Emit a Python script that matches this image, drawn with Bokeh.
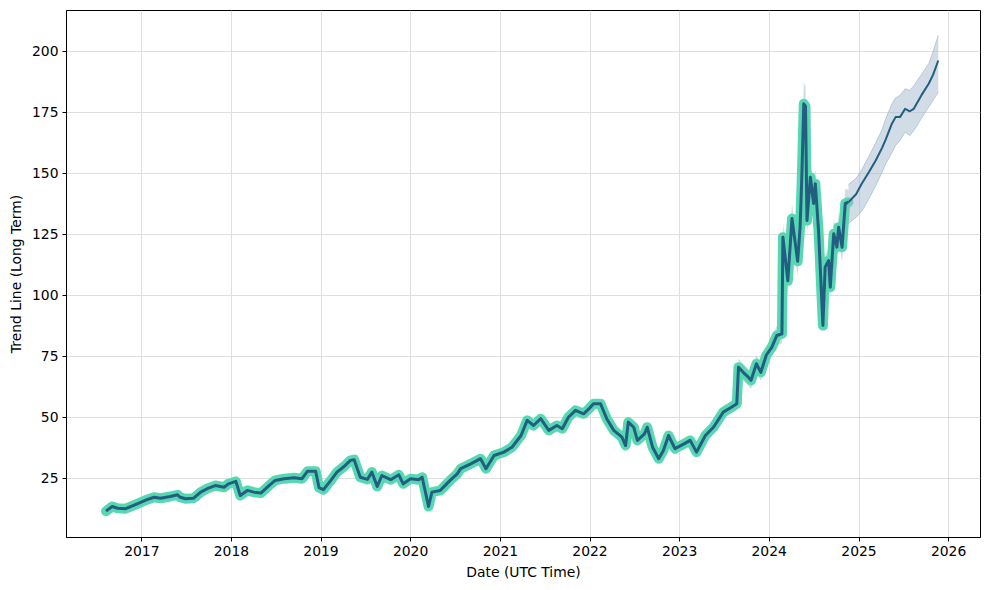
import pandas as pd
from bokeh.plotting import figure
from bokeh.models import Range1d, FixedTicker, DatetimeTickFormatter
from bokeh.embed import file_html
from bokeh.resources import INLINE

# ---------------- data ----------------
hist_dates = [
    "2016-08-08", "2016-09-02", "2016-09-24", "2016-10-27", "2016-12-13",
    "2017-01-22", "2017-02-20", "2017-03-18", "2017-04-27", "2017-05-26", "2017-06-06", "2017-06-28",
    "2017-07-31", "2017-08-29", "2017-09-24", "2017-10-27", "2017-12-02", "2017-12-20",
    "2018-01-19", "2018-02-06", "2018-03-07", "2018-04-02", "2018-05-01", "2018-06-03", "2018-06-28",
    "2018-08-04", "2018-09-13", "2018-10-16", "2018-11-07", "2018-12-10", "2018-12-24",
    "2019-01-11", "2019-02-10", "2019-03-07", "2019-04-05", "2019-05-01", "2019-05-16", "2019-06-10",
    "2019-07-09", "2019-07-27", "2019-08-18", "2019-09-06", "2019-10-12", "2019-11-14", "2019-12-02",
    "2020-01-01", "2020-02-03", "2020-02-17", "2020-03-03", "2020-03-14", "2020-03-28", "2020-05-01",
    "2020-06-10", "2020-07-09", "2020-07-23", "2020-09-02", "2020-10-12", "2020-11-03", "2020-12-06",
    "2021-01-15", "2021-02-17", "2021-03-26", "2021-04-20", "2021-05-16", "2021-06-14", "2021-07-17",
    "2021-08-19", "2021-09-10", "2021-10-05", "2021-11-03", "2021-12-06", "2021-12-28",
    "2022-01-15", "2022-02-13", "2022-03-10", "2022-04-08", "2022-05-11", "2022-05-26", "2022-06-06",
    "2022-06-28", "2022-07-13", "2022-08-11", "2022-08-22", "2022-09-13", "2022-10-08", "2022-10-27",
    "2022-11-17", "2022-12-13",
    "2023-01-19", "2023-02-13", "2023-03-11", "2023-04-16", "2023-05-19", "2023-06-28", "2023-07-31",
    "2023-08-22", "2023-08-29", "2023-09-16", "2023-10-08", "2023-10-19", "2023-11-10", "2023-11-28",
    "2023-12-20",
    "2024-01-12", "2024-02-01", "2024-02-22", "2024-02-26", "2024-03-17", "2024-04-03", "2024-04-26",
    "2024-05-06", "2024-05-13", "2024-05-21", "2024-05-28", "2024-06-03", "2024-06-17", "2024-06-30",
    "2024-07-07", "2024-07-20", "2024-07-27", "2024-08-07", "2024-08-16", "2024-08-30", "2024-09-06",
    "2024-09-20", "2024-10-03", "2024-10-10", "2024-10-24", "2024-11-06", "2024-11-19",
]
hist_values = [
    11.6, 13.5, 12.8, 12.6, 14.6,
    16.3, 17.3, 16.9, 17.6, 18.3, 17.3, 16.7, 16.9, 19.4, 20.8, 22.1, 21.4, 22.8,
    23.8, 18.0, 20.1, 19.4, 19.0, 22.1, 24.2, 24.9, 25.3, 24.9, 28.0, 28.0, 21.2,
    20.4, 24.2, 27.6, 29.9, 32.4, 32.7, 25.5, 24.6, 27.6, 21.7, 26.2, 24.5, 26.5, 22.8,
    24.9, 24.5, 25.5, 18.7, 13.5, 19.4, 20.1, 24.2, 26.9, 29.0, 31.0, 33.1, 29.0, 34.4,
    35.8, 37.8, 42.6, 48.8, 46.7, 49.5, 44.7, 46.7, 45.4, 50.1, 52.9, 51.5, 53.6,
    55.6, 55.6, 49.5, 44.7, 41.9, 38.5, 48.1, 46.0, 40.6, 43.3, 46.0, 37.8, 33.1, 36.5, 42.6, 37.2,
    39.2, 40.6, 35.8, 42.6, 46.0, 52.2, 54.2, 55.6, 70.6, 68.6, 66.5, 65.2, 72.0, 68.5, 75.5,
    78.8, 83.6, 84.3, 123.9, 106.0, 131.5, 114.0, 128.0, 148.5, 178.6, 177.5, 130.7, 148.5, 137.7,
    145.8, 126.7, 111.6, 87.7, 111.6, 114.3, 103.4, 125.3, 119.8, 128.0, 119.8, 137.7, 138.2,
]
hist_spread = [
    0.8, 0.8, 0.8, 0.8, 0.8,
    0.8, 0.8, 0.8, 0.8, 0.8, 0.8, 0.8, 0.8, 0.8, 0.8, 0.8, 0.8, 0.8,
    1.0, 1.0, 1.0, 1.0, 1.0, 1.0, 1.0, 1.0, 1.0, 1.0, 1.0, 1.0, 1.0,
    1.0, 1.0, 1.0, 1.0, 1.0, 1.0, 1.0, 1.0, 1.0, 1.0, 1.0, 1.0, 1.0, 1.0,
    1.2, 1.2, 1.2, 1.2, 1.2, 1.2, 1.2, 1.2, 1.2, 1.2, 1.2, 1.2, 1.2, 1.2,
    1.8, 1.8, 1.8, 1.8, 1.8, 1.8, 1.8, 1.8, 1.8, 1.8, 1.8, 1.8, 1.8,
    2.0, 2.0, 2.0, 2.0, 2.0, 2.0, 2.0, 2.0, 2.0, 2.0, 2.0, 2.0, 2.0, 2.0, 2.0, 2.0,
    2.0, 2.0, 2.0, 2.0, 2.0, 2.5, 2.5, 2.5, 3.5, 3.5, 3.5, 3.5, 3.5, 3.5, 3.5,
    4.0, 4.0, 4.0, 6.0, 6.0, 6.0, 6.0, 6.0, 7.0, 9.0, 8.0, 6.0, 7.0, 6.0,
    6.0, 6.0, 5.0, 4.0, 5.0, 5.0, 5.0, 6.0, 6.0, 6.0, 6.0, 6.0, 5.0,
]

fc_dates = [
    "2024-11-19", "2024-12-20", "2025-01-12", "2025-02-10", "2025-03-10", "2025-04-05", "2025-04-20",
    "2025-05-15", "2025-05-30", "2025-06-17", "2025-07-08", "2025-07-27", "2025-08-12", "2025-09-12",
    "2025-10-12", "2025-10-30", "2025-11-20",
]
fc_values = [138.2, 141.5, 145.8, 150.5, 155.3, 160.5, 164.0, 170.4, 173.1, 173.1, 176.5, 175.5,
             176.5, 182.0, 186.8, 190.5, 196.3]
fc_lower = [129.5, 132.0, 134.5, 139.5, 145.0, 150.5, 154.0, 158.5, 161.5, 163.5, 166.9, 165.6,
            167.5, 172.5, 177.2, 180.0, 183.3]
fc_upper = [145.5, 148.0, 151.5, 157.0, 162.5, 168.0, 172.5, 178.5, 181.0, 182.0, 184.7, 184.0,
            186.0, 190.5, 195.0, 200.0, 206.6]

tick_years = [2017, 2018, 2019, 2020, 2021, 2022, 2023, 2024, 2025, 2026]
y_ticks = [25, 50, 75, 100, 125, 150, 175, 200]

# ---------------- figure ----------------
hd = pd.to_datetime(hist_dates)
fd = pd.to_datetime(fc_dates)
h_low = [v - s for v, s in zip(hist_values, hist_spread)]
h_high = [v + s for v, s in zip(hist_values, hist_spread)]

p = figure(
    width=989, height=590, x_axis_type="datetime",
    output_backend="svg", toolbar_location=None,
    x_range=Range1d(pd.Timestamp("2016-02-29"), pd.Timestamp("2026-05-11")),
    y_range=Range1d(0.8, 216.8),
    min_border_left=66, min_border_right=9, min_border_top=10, min_border_bottom=53,
)
p.background_fill_color = "white"
p.border_fill_color = "white"
p.outline_line_color = "black"
p.outline_line_width = 1
p.outline_line_alpha = 1

# historical band
p.varea(x=hd, y1=h_low, y2=h_high, fill_color="#9fb7cb", fill_alpha=0.5)
# historical line: thick turquoise under dark blue
p.line(hd, hist_values, line_color="#58d8b2", line_width=10, line_join="round", line_cap="round")
p.line(hd, hist_values, line_color="#215e80", line_width=3, line_join="round")

# forecast band and line
p.varea(x=fd, y1=fc_lower, y2=fc_upper, fill_color="#a3bacd", fill_alpha=0.5)
p.line(fd, fc_lower, line_color="#a3bacd", line_alpha=0.7, line_width=1)
p.line(fd, fc_upper, line_color="#a3bacd", line_alpha=0.7, line_width=1)
p.line(fd, fc_values, line_color="#215e80", line_width=2, line_join="round")

# axes
p.xaxis.ticker = FixedTicker(ticks=[pd.Timestamp(f"{y}-01-01").value // 10**6 for y in tick_years])
p.xaxis.formatter = DatetimeTickFormatter(
    years="%Y", months="%Y", days="%Y", hours="%Y", minutes="%Y", seconds="%Y",
    milliseconds="%Y", microseconds="%Y",
)
p.yaxis.ticker = FixedTicker(ticks=y_ticks)

p.xaxis.axis_label = "Date (UTC Time)"
p.yaxis.axis_label = "Trend Line (Long Term)"

for ax in (p.xaxis, p.yaxis):
    ax.axis_line_color = "black"
    ax.major_tick_line_color = "black"
    ax.major_tick_out = 4
    ax.major_tick_in = 0
    ax.minor_tick_line_color = None
    ax.major_label_text_font = "DejaVu Sans"
    ax.major_label_text_font_size = "13.9px"
    ax.major_label_text_color = "black"
    ax.major_label_standoff = 4
    ax.axis_label_text_font = "DejaVu Sans"
    ax.axis_label_text_font_size = "13.9px"
    ax.axis_label_text_font_style = "normal"
    ax.axis_label_text_color = "black"
    ax.axis_label_standoff = 5

p.xgrid.grid_line_color = "#dfdfdf"
p.ygrid.grid_line_color = "#dfdfdf"
p.xgrid.grid_line_width = 1
p.ygrid.grid_line_width = 1

open("out.html", "w").write(file_html(p, INLINE))
